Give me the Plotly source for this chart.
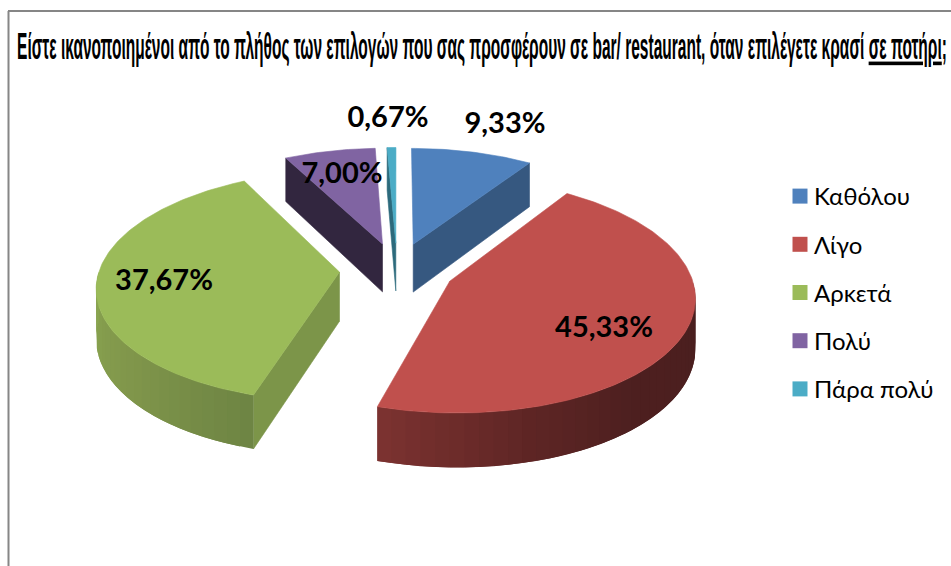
import numpy as np
import plotly.graph_objects as go

# Survey answers, share of respondents in percent
categories = ["Καθόλου", "Λίγο", "Αρκετά", "Πολύ", "Πάρα πολύ"]
shares = [9.33, 45.33, 37.67, 7.00, 0.67]
top_colors = ["#4F81BD", "#C0504D", "#9BBB59", "#8064A2", "#4BACC6"]
edge_colors = ["#365880", "#7D3331", "#7C9549", "#32263F", "#2C6A7C"]
title_html = ("<b>Είστε ικανοποιημένοι από το πλήθος των επιλογών που σας προσφέρουν "
              "σε bar/ restaurant, όταν επιλέγετε κρασί <u>σε ποτήρι</u>;</b>")

# Shading of the rim, as (angle, colour) stops
rim_stops = {
    1: [(90, (74, 31, 31)), (140, (78, 32, 32)), (165, (95, 38, 37)), (197, (125, 51, 49))],
    2: [(197, (110, 133, 68)), (230, (128, 150, 75)), (270, (139, 166, 81))],
}

# Projection of the tilted pie onto the page
CX, CY = 397.0, 269.5
RX, RY = 240.0, 113.0
PERSPECTIVE = 0.12
EXPLODE = 0.24
THICKNESS = 49.0


def project(u, v, lower=False):
    d = 1 - PERSPECTIVE * v
    x = CX + RX * u / d
    y = CY + RY * v / d
    if lower:
        y = y + THICKNESS + 5 * v
    return x, y


def outer_point(theta, off):
    return off[0] + np.sin(theta), off[1] - np.cos(theta)


def polygon(fig, xs, ys, color, line_width=0.6):
    fig.add_trace(go.Scatter(
        x=xs, y=ys, mode="lines", fill="toself", fillcolor=color,
        line=dict(color=color, width=line_width), hoverinfo="skip", showlegend=False,
    ))


fig = go.Figure()

total = sum(shares)
edges = np.concatenate([[0], np.cumsum(shares)]) / total * 2 * np.pi

for i, (name, share) in enumerate(zip(categories, shares)):
    a0, a1 = edges[i], edges[i + 1]
    mid = (a0 + a1) / 2
    off = (EXPLODE * np.sin(mid), -EXPLODE * np.cos(mid))

    # straight cut faces that turn towards the viewer
    for a, visible in ((a0, np.sin(a0) < -1e-6), (a1, np.sin(a1) > 1e-6)):
        if visible:
            px, py = outer_point(a, off)
            x1, y1 = project(off[0], off[1])
            x2, y2 = project(px, py)
            x3, y3 = project(px, py, True)
            x4, y4 = project(off[0], off[1], True)
            polygon(fig, [x1, x2, x3, x4, x1], [y1, y2, y3, y4, y1], edge_colors[i])

    # curved rim on the near half: short strips, each one running under the
    # next so that no seam opens between neighbouring shades
    lo, hi = max(a0, np.pi / 2), min(a1, 3 * np.pi / 2)
    if hi > lo:
        n = max(2, int(np.degrees(hi - lo) / 3))
        cuts = np.linspace(lo, hi, n + 1)
        for s in range(n):
            t = np.linspace(cuts[s], cuts[min(s + 2, n)], 6)
            pu, pv = outer_point(t, off)
            xa, ya = project(pu, pv)
            xb, yb = project(pu, pv, True)
            deg = np.degrees((cuts[s] + cuts[s + 1]) / 2)
            stops = rim_stops.get(i)
            if stops:
                angs = [p[0] for p in stops]
                rgb = [int(np.interp(deg, angs, [p[1][c] for p in stops])) for c in range(3)]
                col = f"rgb({rgb[0]},{rgb[1]},{rgb[2]})"
            else:
                col = edge_colors[i]
            polygon(fig, list(xa) + list(xb[::-1]) + [xa[0]],
                    list(ya) + list(yb[::-1]) + [ya[0]], col, line_width=0)

    # upper face
    t = np.linspace(a0, a1, max(6, int(np.degrees(a1 - a0))))
    pu, pv = outer_point(t, off)
    u = np.concatenate([[off[0]], pu, [off[0]]])
    v = np.concatenate([[off[1]], pv, [off[1]]])
    xs, ys = project(u, v)
    polygon(fig, xs, ys, top_colors[i])

# Legend entries, one group per answer so they spread out vertically
for name, color in zip(categories, top_colors):
    fig.add_trace(go.Scatter(
        x=[None], y=[None], mode="markers", name=name, legendgroup=name,
        marker=dict(symbol="square", size=15, color=color),
    ))

# Value labels
label_x = [505, 604, 164, 342, 388]
label_y = [126, 330, 283, 176, 120]
fig.add_trace(go.Scatter(
    x=label_x, y=label_y, mode="text",
    text=[f"{s:.2f}%".replace(".", ",") for s in shares],
    textposition="middle center",
    textfont=dict(family="Lato, Open Sans, sans-serif", size=29, color="#000000", weight="bold"),
    hoverinfo="skip", showlegend=False,
))

fig.update_layout(
    width=951, height=566,
    margin=dict(l=0, r=0, t=0, b=0),
    paper_bgcolor="#FFFFFF", plot_bgcolor="#FFFFFF",
    xaxis=dict(range=[0, 951], visible=False, domain=[0, 1]),
    yaxis=dict(range=[566, 0], visible=False, domain=[0, 1]),
    legend=dict(
        x=780 / 951, xanchor="left", y=1 - 174 / 566, yanchor="top",
        font=dict(family="Lato, Open Sans, sans-serif", size=24, color="#000000"),
        tracegroupgap=14, itemsizing="trace", bgcolor="rgba(0,0,0,0)",
    ),
    shapes=[
        dict(type="line", xref="paper", yref="paper", x0=8.5 / 951, x1=8.5 / 951, y0=0, y1=1 - 11 / 566,
             line=dict(color="#868686", width=2)),
        dict(type="line", xref="paper", yref="paper", x0=8 / 951, x1=1, y0=1 - 11 / 566, y1=1 - 11 / 566,
             line=dict(color="#868686", width=2)),
    ],
    annotations=[dict(
        text=title_html, xref="paper", yref="paper", x=15 / 951, y=1 - 46 / 566,
        xanchor="left", yanchor="middle", showarrow=False,
        font=dict(family="Liberation Sans, Arial, sans-serif", size=36, color="#000000"),
    )],
)

# The heading is set in a condensed cut: squeeze it sideways to its measure.
# Legend labels sit a little closer to their swatches than the default.
finish = """
var t = document.querySelector('.annotation-text');
if (t) {
  var b = t.getBBox();
  var sx = 930 / b.width;
  t.setAttribute('transform', 'translate(' + b.x + ',0) scale(' + sx + ',1) translate(' + (-b.x) + ',0)');
}
document.querySelectorAll('.legendtext').forEach(function (n) {
  n.setAttribute('x', parseFloat(n.getAttribute('x')) - 6);
});
"""

fig.write_html("out.html", post_script=finish, config={"displayModeBar": False})
